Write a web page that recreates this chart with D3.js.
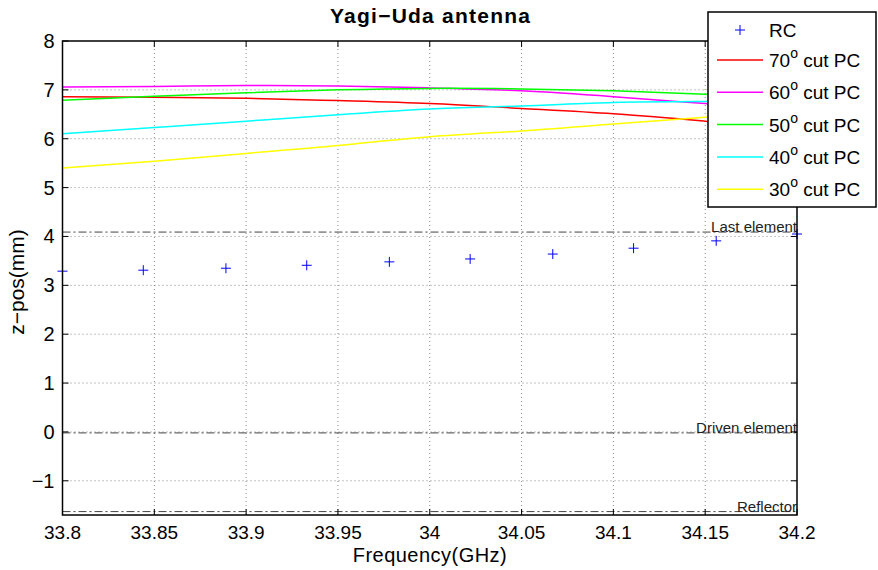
<!DOCTYPE html>
<html>
<head>
<meta charset="utf-8">
<script src="https://cdn.jsdelivr.net/npm/d3@7"></script>
<style>
  body { margin: 0; background: #fff; }
  text { font-family: "Liberation Sans", Arial, sans-serif; }
</style>
</head>
<body>
<div id="chart"></div>
<script>
// data
const pcFreq = [33.8, 33.85, 33.9, 33.95, 34.0, 34.05, 34.1, 34.15, 34.2];
const cut70 = [6.86, 6.85, 6.83, 6.78, 6.72, 6.62, 6.51, 6.36, 6.2];
const cut60 = [7.06, 7.07, 7.09, 7.08, 7.04, 6.98, 6.86, 6.72, 6.58];
const cut50 = [6.79, 6.87, 6.94, 7.0, 7.03, 7.02, 6.98, 6.91, 6.82];
const cut40 = [6.1, 6.23, 6.36, 6.49, 6.61, 6.67, 6.74, 6.76, 6.77];
const cut30 = [5.4, 5.54, 5.7, 5.86, 6.04, 6.16, 6.3, 6.44, 6.57];

const rcFreq = [33.8, 33.844, 33.889, 33.933, 33.978, 34.022, 34.067, 34.111, 34.156, 34.2];
const rcPos = [3.29, 3.31, 3.35, 3.41, 3.48, 3.54, 3.64, 3.76, 3.91, 4.05];

const refLines = [
  { name: "Last element", z: 4.09 },
  { name: "Driven element", z: -0.02 },
  { name: "Reflector", z: -1.63 }
];

const xTicks = [33.8, 33.85, 33.9, 33.95, 34.0, 34.05, 34.1, 34.15, 34.2];
const yTicks = [-1, 0, 1, 2, 3, 4, 5, 6, 7, 8];

const series = [
  { label: "70", values: cut70, color: "#ff0000" },
  { label: "60", values: cut60, color: "#ff00ff" },
  { label: "50", values: cut50, color: "#00ff00" },
  { label: "40", values: cut40, color: "#00ffff" },
  { label: "30", values: cut30, color: "#ffff00" }
];

const width = 878, height = 570;
const margin = { top: 41, right: 81, bottom: 55, left: 62.5 };

const svg = d3.select("#chart").append("svg")
  .attr("width", width)
  .attr("height", height);

const x = d3.scaleLinear().domain([33.8, 34.2]).range([margin.left, width - margin.right]);
const y = d3.scaleLinear().domain([-1.7, 8]).range([height - margin.bottom, margin.top]);

const x0 = x.range()[0], x1 = x.range()[1];
const y0 = y.range()[0], y1 = y.range()[1];

// grid
svg.append("g")
  .selectAll("line")
  .data(xTicks.slice(1, -1))
  .join("line")
  .attr("x1", d => x(d)).attr("x2", d => x(d))
  .attr("y1", y1).attr("y2", y0)
  .attr("stroke", "#888").attr("stroke-width", 1)
  .attr("stroke-dasharray", "1,3");

svg.append("g")
  .selectAll("line")
  .data(yTicks.filter(d => d < 8))
  .join("line")
  .attr("x1", x0).attr("x2", x1)
  .attr("y1", d => y(d)).attr("y2", d => y(d))
  .attr("stroke", "#888").attr("stroke-width", 1)
  .attr("stroke-dasharray", "1,3");

// reference lines
svg.append("g")
  .selectAll("line")
  .data(refLines)
  .join("line")
  .attr("x1", x0).attr("x2", x1)
  .attr("y1", d => y(d.z)).attr("y2", d => y(d.z))
  .attr("stroke", "#444").attr("stroke-width", 1)
  .attr("stroke-dasharray", "8,3,2,3");

svg.append("g")
  .selectAll("text")
  .data(refLines)
  .join("text")
  .attr("x", x1)
  .attr("y", d => y(d.z))
  .attr("text-anchor", "end")
  .attr("font-size", "15px")
  .attr("fill", "#222")
  .text(d => d.name);

// PC lines
const line = d3.line()
  .x((d, i) => x(pcFreq[i]))
  .y(d => y(d))
  .curve(d3.curveNatural);

svg.append("g")
  .selectAll("path")
  .data(series)
  .join("path")
  .attr("d", d => line(d.values))
  .attr("fill", "none")
  .attr("stroke", d => d.color)
  .attr("stroke-width", 1.5);

// RC markers
svg.append("g")
  .selectAll("path")
  .data(rcFreq.map((f, i) => ({ f, z: rcPos[i] })))
  .join("path")
  .attr("d", "M-5,0H5M0,-5V5")
  .attr("transform", d => `translate(${x(d.f)},${y(d.z)})`)
  .attr("stroke", "#0000ff")
  .attr("stroke-width", 1)
  .attr("fill", "none");

// axes box
svg.append("rect")
  .attr("x", x0).attr("y", y1)
  .attr("width", x1 - x0).attr("height", y0 - y1)
  .attr("fill", "none").attr("stroke", "#000").attr("stroke-width", 1.5);

// ticks (inward, mirrored)
const tk = 6;
const tickG = svg.append("g").attr("stroke", "#000").attr("stroke-width", 1);
xTicks.forEach(t => {
  tickG.append("line").attr("x1", x(t)).attr("x2", x(t)).attr("y1", y0).attr("y2", y0 - tk);
  tickG.append("line").attr("x1", x(t)).attr("x2", x(t)).attr("y1", y1).attr("y2", y1 + tk);
});
yTicks.forEach(t => {
  tickG.append("line").attr("x1", x0).attr("x2", x0 + tk).attr("y1", y(t)).attr("y2", y(t));
  tickG.append("line").attr("x1", x1).attr("x2", x1 - tk).attr("y1", y(t)).attr("y2", y(t));
});

// tick labels
svg.append("g")
  .selectAll("text")
  .data(xTicks)
  .join("text")
  .attr("x", d => x(d))
  .attr("y", y0 + 24)
  .attr("text-anchor", "middle")
  .attr("font-size", "19px")
  .text(d => String(+d.toFixed(2)));

svg.append("g")
  .selectAll("text")
  .data(yTicks)
  .join("text")
  .attr("x", x0 - 8)
  .attr("y", d => y(d) + 7)
  .attr("text-anchor", "end")
  .attr("font-size", "20px")
  .text(d => d < 0 ? "\u2212" + Math.abs(d) : d);

// labels
svg.append("text")
  .attr("x", (x0 + x1) / 2)
  .attr("y", 562)
  .attr("text-anchor", "middle")
  .attr("font-size", "20px")
  .attr("textLength", 154)
  .text("Frequency(GHz)");

svg.append("text")
  .attr("transform", `translate(24,282) rotate(-90)`)
  .attr("text-anchor", "middle")
  .attr("font-size", "21px")
  .text("z\u2212pos(mm)");

svg.append("text")
  .attr("x", 430)
  .attr("y", 23)
  .attr("text-anchor", "middle")
  .attr("font-size", "21px")
  .attr("font-weight", "bold")
  .attr("textLength", 200)
  .text("Yagi\u2212Uda antenna");

// legend
const lg = svg.append("g").attr("transform", "translate(708,12)");
lg.append("rect")
  .attr("width", 168).attr("height", 195)
  .attr("fill", "#fff").attr("stroke", "#000").attr("stroke-width", 1.5);

lg.append("path")
  .attr("d", "M-5,0H5M0,-5V5")
  .attr("transform", "translate(32,18)")
  .attr("stroke", "#0000ff").attr("fill", "none");
lg.append("text")
  .attr("x", 61).attr("y", 25)
  .attr("font-size", "19px")
  .text("RC");

series.forEach((s, i) => {
  const yy = 48 + i * 32.3;
  lg.append("line")
    .attr("x1", 9).attr("x2", 55)
    .attr("y1", yy).attr("y2", yy)
    .attr("stroke", s.color).attr("stroke-width", 1.5);
  const t = lg.append("text")
    .attr("x", 61).attr("y", yy + 7)
    .attr("font-size", "19px");
  t.append("tspan").text(s.label);
  t.append("tspan").attr("dy", -9).attr("font-size", "14px").text("o");
  t.append("tspan").attr("dy", 9).text(" cut PC");
});
</script>
</body>
</html>
